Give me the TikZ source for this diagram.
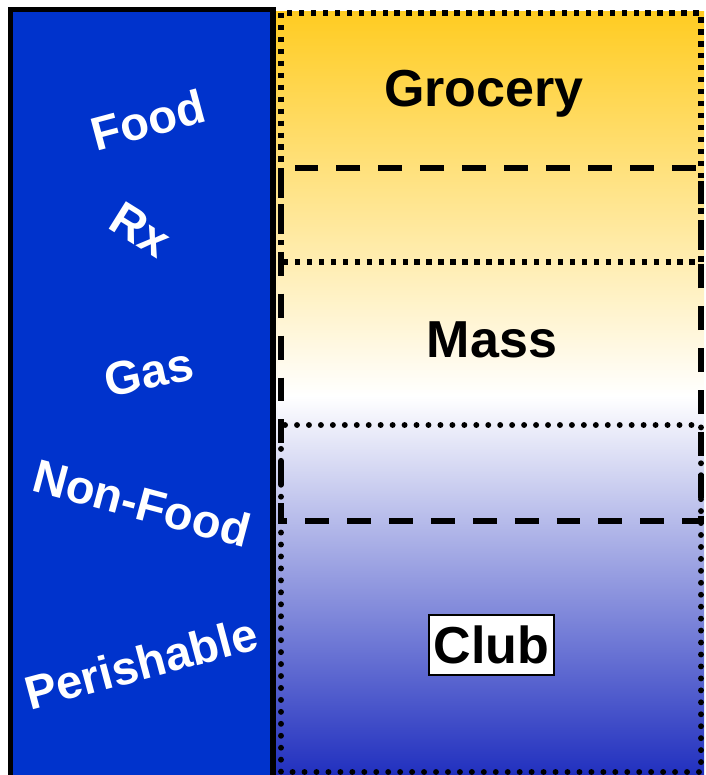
\documentclass[tikz,border=0pt]{standalone}
\usepackage{fontspec}
\setmainfont{Liberation Sans}
\definecolor{panelblue}{RGB}{0,51,204}
\definecolor{groceryorange}{RGB}{255,204,34}
\definecolor{clubblue}{RGB}{30,45,190}

\begin{document}
\begin{tikzpicture}[x=0.025cm,y=-0.025cm,
    sidelabel/.style={text=white,font=\fontsize{33.5}{38}\selectfont\bfseries},
    formatlabel/.style={text=black,font=\fontsize{37}{42}\selectfont\bfseries}]
  \useasboundingbox (0,0) rectangle (705,775);
  \begin{scope}
    \clip (0,0) rectangle (705,775);
    % right side: store formats
    \shade[top color=groceryorange,bottom color=clubblue,middle color=white] (276,12) rectangle (704,780);
    % left side: categories
    \fill[panelblue] (10.5,9.5) rectangle (273,800);
    \draw[line width=3.6pt] (10.5,9.5) rectangle (273,800);
    % overlapping format boxes
    \draw[line width=4.2pt,line cap=round,dash pattern=on 0pt off 8.5pt] (281,425) rectangle (701,772);
    \draw[line width=4pt,dash pattern=on 17pt off 12.8pt] (281,168) rectangle (701,521);
    \draw[line width=3.8pt,dash pattern=on 3.8pt off 4.7pt] (281,13) rectangle (701,262);
  \end{scope}
  \node[sidelabel,rotate=15] (food) at (148,120) {Food};
  \node[sidelabel,rotate=-32] (rx) at (141,230) {Rx};
  \node[sidelabel,rotate=12] (gas) at (149,372) {Gas};
  \node[sidelabel,rotate=-15] (nonfood) at (142,503) {Non-Food};
  \node[sidelabel,rotate=15] (perishable) at (141,663) {Perishable};
  \node[formatlabel,anchor=base] (grocery) at (484,107) {Grocery};
  \node[formatlabel,anchor=base] (mass) at (492,357) {Mass};
  \node[formatlabel,draw,fill=white,line width=1.4pt,inner xsep=3.5pt,inner ysep=8pt] (club) at (491.5,645) {Club};
\end{tikzpicture}
\end{document}
